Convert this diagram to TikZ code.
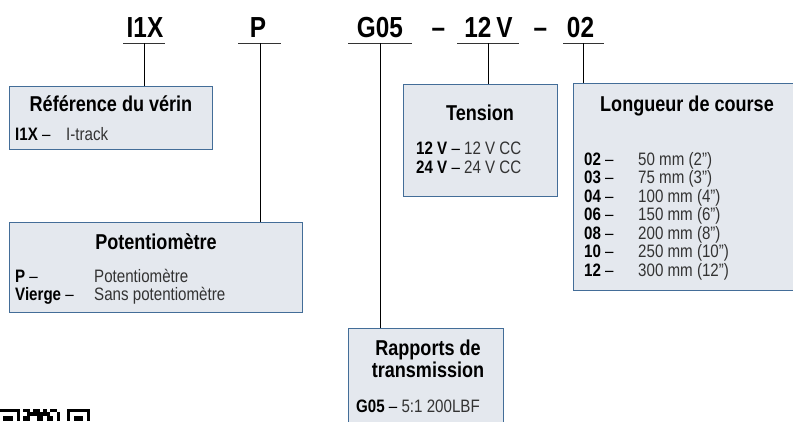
\documentclass[tikz,border=0pt]{standalone}
\usepackage{fontspec}
\setmainfont{Liberation Sans}[FakeStretch=0.84]
\definecolor{boxblue}{HTML}{436D98}
\definecolor{boxfill}{HTML}{E4E8EE}
\definecolor{txtgray}{HTML}{333333}
\begin{document}
\begin{tikzpicture}[x=1pt,y=-1pt,
  infobox/.style={draw=boxblue, fill=boxfill, line width=1pt, anchor=north west, inner sep=0pt},
  hdr/.style={font=\fontsize{29}{29}\selectfont\bfseries, anchor=base, inner sep=0pt},
  ttl/.style={font=\fontsize{21.5}{20}\selectfont\bfseries, anchor=base, align=center, inner sep=0pt},
  key/.style={font=\fontsize{18}{18}\selectfont, anchor=base west, text=black, inner sep=0pt},
  val/.style={font=\fontsize{18}{18}\selectfont, anchor=base west, text=txtgray, inner sep=0pt},
  uline/.style={line width=1pt, draw=black!80},
  conn/.style={line width=0.8pt, draw=black},
  qr/.style={fill=black, draw=none}]
\useasboundingbox (0,0) rectangle (793,421);
% header
\node[hdr] (hI) at (145,37) {I1X};
\node[hdr] (hP) at (258,37) {P};
\node[hdr] (hG) at (380,37) {G05};
\node[hdr] (hd1) at (438.5,37) {--};
\node[hdr] (hV) at (488.5,37) {12\,V};
\node[hdr] (hd2) at (540.5,37) {--};
\node[hdr] (hL) at (580.5,37) {02};
\coordinate (uI) at (144,43);
\coordinate (uP) at (260,43);
\coordinate (uG) at (380,43);
\coordinate (uV) at (488,43);
\coordinate (uL) at (583,43);
\draw[uline] (123,43) -- (165,43);
\draw[uline] (238,43) -- (281,43);
\draw[uline] (348,43) -- (412,43);
\draw[uline] (457,43) -- (519,43);
\draw[uline] (563,43) -- (604,43);
% boxes
\node[infobox, minimum width=203pt, minimum height=63pt] (b1) at (9,86) {};
\node[infobox, minimum width=293pt, minimum height=90pt] (b2) at (9,222) {};
\node[infobox, minimum width=154pt, minimum height=112pt] (b3) at (403,84) {};
\node[infobox, minimum width=222pt, minimum height=207pt] (b4) at (573,83) {};
\node[infobox, minimum width=155pt, minimum height=100pt] (b5) at (348,328) {};
% connectors
\draw[conn] (uI) -- (uI |- b1.north);
\draw[conn] (uP) -- (uP |- b2.north);
\draw[conn] (uG) -- (uG |- b5.north);
\draw[conn] (uV) -- (uV |- b3.north);
\draw[conn] (uL) -- (uL |- b4.north);
% box 1
\node[ttl] (t1) at (111,111) {Référence du vérin};
\node[key] (k1) at (15,140) {\textbf{I1X} --};
\node[val] (v1) at (66,140) {I-track};
% box 2
\node[ttl] (t2) at (156,249) {Potentiomètre};
\node[key] (k2a) at (15,282) {\textbf{P} --};
\node[val] (v2a) at (94,282) {Potentiomètre};
\node[key] (k2b) at (15,300) {\textbf{Vierge} --};
\node[val] (v2b) at (94,300) {Sans potentiomètre};
% box 3
\node[ttl] (t3) at (480,120) {Tension};
\node[key] (k3a) at (416,154) {\textbf{12 V} -- \textcolor{txtgray}{12 V CC}};
\node[key] (k3b) at (416,173) {\textbf{24 V} -- \textcolor{txtgray}{24 V CC}};
% box 4
\node[ttl] (t4) at (687,111) {Longueur de course};
\foreach \k/\v [count=\i from 0] in {02/50 mm (2”), 03/75 mm (3”), 04/100 mm (4”), 06/150 mm (6”), 08/200 mm (8”), 10/250 mm (10”), 12/300 mm (12”)}{
  \node[key] (k4\i) at (584,165+18.5*\i) {\textbf{\k} --};
  \node[val] (v4\i) at (638,165+18.5*\i) {\v};
}
% box 5
\node[ttl] (t5) at (428,377) {Rapports de\\transmission};
\node[key] (k5) at (356,412) {\textbf{G05} -- \textcolor{txtgray}{5:1 200LBF}};
% QR fragment
\fill[qr] (0,409) rectangle (20,412.3);
\fill[qr] (16.7,412.3) rectangle (20,421);
\fill[qr] (3.3,415.6) rectangle (13.4,421);
\fill[qr] (23.4,409) rectangle (30,412.3);
\fill[qr] (33.4,409) rectangle (40,415.6);
\fill[qr] (43.4,409) rectangle (46.7,412.3);
\fill[qr] (50,409) rectangle (56.7,412.3);
\fill[qr] (26.7,412.3) rectangle (33.4,415.6);
\fill[qr] (40,412.3) rectangle (50,415.6);
\fill[qr] (23.4,415.6) rectangle (30,421);
\fill[qr] (36.7,415.6) rectangle (43.4,421);
\fill[qr] (46.7,415.6) rectangle (53.4,421);
\fill[qr] (56.7,412.3) rectangle (60,421);
\fill[qr] (67,409) rectangle (90,412.3);
\fill[qr] (67,412.3) rectangle (70.3,421);
\fill[qr] (86.7,412.3) rectangle (90,421);
\fill[qr] (73.6,415.6) rectangle (83.4,421);
\end{tikzpicture}
\end{document}
